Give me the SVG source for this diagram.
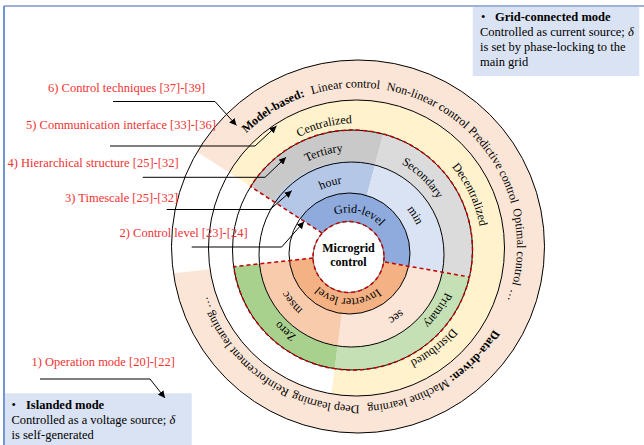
<svg xmlns="http://www.w3.org/2000/svg" width="644" height="445" viewBox="0 0 644 445">
<defs>
<style>
text{font-family:"Liberation Serif","Times New Roman",serif;fill:#000}
.rt{font-size:12px}
.lbl{font-size:12.5px;fill:#f03232}
.box{font-size:12.5px}
.b{font-weight:bold}
.ring{fill:none;stroke:#000;stroke-width:1}
.dash{fill:none;stroke:#c00000;stroke-width:1.5;stroke-dasharray:4 3}
.conn{fill:none;stroke:#000;stroke-width:1}
</style>
<marker id="ah" viewBox="0 0 10 10" refX="10" refY="5" markerWidth="7" markerHeight="7" markerUnits="userSpaceOnUse" orient="auto"><path d="M0,0 L10,5 L0,10 z" fill="#000"/></marker>
<path id="p2a" d="M308.5,253.5 A41,41 0 1 1 390.5,253.5 A41,41 0 1 1 308.5,253.5"/>
<path id="p2b" d="M304.5,253.5 A45,45 0 1 1 394.5,253.5 A45,45 0 1 1 304.5,253.5"/>
<path id="p3" d="M280,254.5 A71.5,71.5 0 1 1 423,254.5 A71.5,71.5 0 1 1 280,254.5"/>
<path id="p3b" d="M278,254.5 A73.5,73.5 0 1 1 425,254.5 A73.5,73.5 0 1 1 278,254.5"/>
<path id="p4" d="M253.5,250 A99,99 0 1 1 451.5,250 A99,99 0 1 1 253.5,250"/>
<path id="p4b" d="M250.5,250 A102,102 0 1 1 454.5,250 A102,102 0 1 1 250.5,250"/>
<path id="p5" d="M231.5,248 A125,125 0 1 1 481.5,248 A125,125 0 1 1 231.5,248"/>
<path id="p6" d="M199,246.5 A159,159 0 1 1 517,246.5 A159,159 0 1 1 199,246.5"/>
</defs>

<g id="frame">
<line x1="4" y1="6" x2="644" y2="6" stroke="#9fb1d4" stroke-width="2"/>
<line x1="4" y1="6" x2="4" y2="445" stroke="#4472c4" stroke-width="1.5"/>
</g>

<g id="grid-connected-box">
<rect x="472.7" y="7" width="166.6" height="69" fill="#dae3f3"/>
<text class="box" x="481" y="21">•<tspan class="b" x="495">Grid-connected mode</tspan></text>
<text class="box" x="480" y="36">Controlled as current source; <tspan font-style="italic">δ</tspan></text>
<text class="box" x="480" y="51">is set by phase-locking to the</text>
<text class="box" x="480" y="66">main grid</text>
</g>

<g id="islanded-box">
<rect x="5" y="393.3" width="186.7" height="51.7" fill="#dae3f3"/>
<text class="box" x="11.5" y="409">•<tspan class="b" x="26">Islanded mode</tspan></text>
<text class="box" x="11.5" y="424">Controlled as a voltage source; <tspan font-style="italic">δ</tspan></text>
<text class="box" x="11.5" y="439">is self-generated</text>
</g>

<g id="control-techniques-ring">
<path d="M197.28,151.88 A186.5,186.5 0 1 1 173.44,273.33 L210.05,269.30 A148,148 0 1 0 229.14,172.60 Z" fill="#fbe5d6"/>
</g>
<g id="communication-ring">
<path d="M229.14,172.60 A148,148 0 1 1 331.40,393.86 L334.67,368.67 A120,120 0 1 0 250.63,186.58 Z" fill="#fff2cc"/>
</g>
<g id="hierarchy-ring">
<path d="M250.63,186.58 A120,120 0 0 1 383.26,134.01 L374.99,165.03 A92.5,92.5 0 0 0 273.63,201.54 Z" fill="#c9c9c9"/>
<path d="M383.26,134.01 A120,120 0 0 1 469.44,276.95 L442.31,272.17 A92.5,92.5 0 0 0 374.99,165.03 Z" fill="#dbdbdb"/>
<path d="M469.44,276.95 A120,120 0 0 1 334.67,368.67 L337.63,345.95 A92.5,92.5 0 0 0 442.31,272.17 Z" fill="#c5e0b4"/>
<path d="M334.67,368.67 A120,120 0 0 1 233.66,266.71 L259.48,263.87 A92.5,92.5 0 0 0 337.63,345.95 Z" fill="#a9d18e"/>
</g>
<g id="timescale-ring">
<path d="M273.63,201.54 A92.5,92.5 0 0 1 374.99,165.03 L366.85,195.55 A60.5,60.5 0 0 0 299.99,218.68 Z" fill="#b4c7e7"/>
<path d="M374.99,165.03 A92.5,92.5 0 0 1 442.31,272.17 L408.64,266.23 A60.5,60.5 0 0 0 366.85,195.55 Z" fill="#dae3f3"/>
<path d="M442.31,272.17 A92.5,92.5 0 0 1 337.63,345.95 L341.84,313.51 A60.5,60.5 0 0 0 408.64,266.23 Z" fill="#fbe5d6"/>
<path d="M337.63,345.95 A92.5,92.5 0 0 1 259.48,263.87 L289.41,260.58 A60.5,60.5 0 0 0 341.84,313.51 Z" fill="#f8cbad"/>
</g>
<g id="control-level-ring">
<path d="M299.99,218.68 A60.5,60.5 0 0 1 408.64,266.23 L383.67,261.82 A35.5,35.5 0 0 0 322.15,233.10 Z" fill="#8faadc"/>
<path d="M408.64,266.23 A60.5,60.5 0 0 1 289.41,260.58 L313.02,257.98 A35.5,35.5 0 0 0 383.67,261.82 Z" fill="#f4b183"/>
</g>

<g id="ring-borders">
<circle class="ring" cx="358" cy="246.5" r="186.5"/>
<circle class="ring" cx="356.5" cy="248" r="148"/>
<circle class="ring" cx="352.5" cy="250" r="120"/>
<circle class="ring" cx="351.5" cy="254.5" r="92.5"/>
<circle class="ring" cx="349.5" cy="253.5" r="60.5"/>
<circle cx="348.5" cy="257" r="35.5" fill="#fff" stroke="#000" stroke-width="0.6"/>
<path class="dash" d="M322.15,233.10 L250.63,186.58 A120,120 0 0 1 469.44,276.95 L383.67,261.82"/>
<path class="dash" d="M313.02,257.98 L233.66,266.71 A120,120 0 0 0 469.44,276.95"/>
<circle class="dash" cx="348.5" cy="257" r="35.5"/>
</g>

<g id="center">
<text class="b" x="348.5" y="252" font-size="12" text-anchor="middle">Microgrid</text>
<text class="b" x="348.5" y="266" font-size="12" text-anchor="middle">control</text>
</g>

<g id="ring-labels" class="rt" text-anchor="middle">
<text class="rt"><textPath href="#p2a" startOffset="28.9%">Grid-level</textPath></text>
<text class="rt"><textPath href="#p2b" startOffset="75.6%">Inverter level</textPath></text>
<text class="rt"><textPath href="#p3" startOffset="20.4%">hour</textPath></text>
<text class="rt"><textPath href="#p3" startOffset="41.2%">min</textPath></text>
<text class="rt"><textPath href="#p3b" startOffset="65.1%">sec</textPath></text>
<text class="rt"><textPath href="#p3b" startOffset="89.2%">msec</textPath></text>
<text class="rt"><textPath href="#p4" startOffset="20.4%">Tertiary</textPath></text>
<text class="rt"><textPath href="#p4" startOffset="37.3%">Secondary</textPath></text>
<text class="rt"><textPath href="#p4b" startOffset="59.8%">Primary</textPath></text>
<text class="rt"><textPath href="#p4b" startOffset="86%">Zero</textPath></text>
<text class="rt"><textPath href="#p5" startOffset="20.9%">Centralized</textPath></text>
<text class="rt"><textPath href="#p5" startOffset="43%">Decentralized</textPath></text>
<text class="rt"><textPath href="#p5" startOffset="64.5%">Distributed</textPath></text>
<text class="rt b"><textPath href="#p6" startOffset="16.1%">Model-based:</textPath></text>
<text class="rt"><textPath href="#p6" startOffset="23.75%">Linear control</textPath></text>
<text class="rt"><textPath href="#p6" startOffset="32.3%">Non-linear control</textPath></text>
<text class="rt"><textPath href="#p6" startOffset="41.4%">Predictive control</textPath></text>
<text class="rt"><textPath href="#p6" startOffset="50.06%">Optimal control</textPath></text>
<text class="rt"><textPath href="#p6" startOffset="54.9%">…</textPath></text>
<text class="rt"><textPath href="#p6" startOffset="66.4%"><tspan class="b">Data-driven:</tspan> Machine learning</textPath></text>
<text class="rt"><textPath href="#p6" startOffset="78.25%">Deep learning</textPath></text>
<text class="rt"><textPath href="#p6" startOffset="88.5%">Reinforcement learning …</textPath></text>
</g>

<g id="labels">
<text class="lbl" x="48" y="92">6) Control techniques [37]-[39]</text>
<text class="lbl" x="26" y="129">5) Communication interface [33]-[36]</text>
<text class="lbl" x="7.5" y="166.5">4) Hierarchical structure [25]-[32]</text>
<text class="lbl" x="65" y="201.5">3) Timescale [25]-[32]</text>
<text class="lbl" x="119.5" y="237">2) Control level [23]-[24]</text>
<text class="lbl" x="31.5" y="366">1) Operation mode [20]-[22]</text>
</g>

<g id="connectors">
<path class="conn" d="M113,101.5 H215 L236.5,125.5" marker-end="url(#ah)"/>
<path class="conn" d="M110,146 H255 L276.5,126" marker-end="url(#ah)"/>
<path class="conn" d="M142.7,177.3 H265 L286,157.3" marker-end="url(#ah)"/>
<path class="conn" d="M166.7,209.5 H270 L291.7,190.7" marker-end="url(#ah)"/>
<path class="conn" d="M191.7,247 H281.7 L304,221.7" marker-end="url(#ah)"/>
<path class="conn" d="M40,379 H150 L165,398" marker-end="url(#ah)"/>
</g>
</svg>
